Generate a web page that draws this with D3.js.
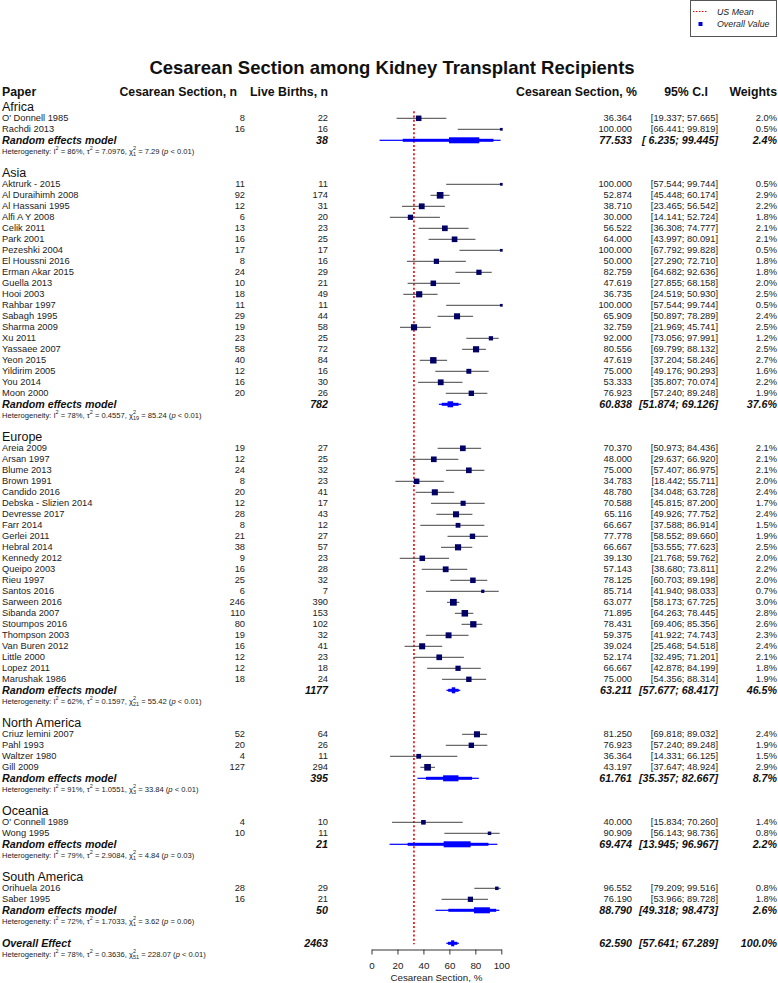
<!DOCTYPE html>
<html><head><meta charset="utf-8">
<script src="https://cdn.jsdelivr.net/npm/d3@7"></script>
<style>
body{margin:0;background:#fff;}
svg{display:block;font-family:"Liberation Sans",Arial,Helvetica,sans-serif;}
text{white-space:pre;}
</style></head><body>
<svg id="chart" width="778" height="983"></svg>
<script>
// ---------------- DATA ----------------
const groups = ["Africa","Asia","Europe","North America","Oceania","South America"];
const studyGroup = [0,0,
  1,1,1,1,1,1,1,1,1,1,1,1,1,1,1,1,1,1,1,1,
  2,2,2,2,2,2,2,2,2,2,2,2,2,2,2,2,2,2,2,2,2,2,
  3,3,3,3,
  4,4,
  5,5];
const studyNames = ["O' Donnell 1985","Rachdi 2013",
  "Aktrurk - 2015","Al Duraihimh 2008","Al Hassani 1995","Alfi A Y 2008","Celik 2011","Park 2001","Pezeshki 2004","El Houssni 2016","Erman Akar 2015","Guella 2013","Hooi 2003","Rahbar 1997","Sabagh 1995","Sharma 2009","Xu 2011","Yassaee 2007","Yeon 2015","Yildirim 2005","You 2014","Moon 2000",
  "Areia 2009","Arsan 1997","Blume 2013","Brown 1991","Candido 2016","Debska - Slizien 2014","Devresse 2017","Farr 2014","Gerlei 2011","Hebral 2014","Kennedy 2012","Queipo 2003","Rieu 1997","Santos 2016","Sarween 2016","Sibanda 2007","Stoumpos 2016","Thompson 2003","Van Buren 2012","Little 2000","Lopez 2011","Marushak 1986",
  "Criuz lemini 2007","Pahl 1993","Waltzer 1980","Gill 2009",
  "O' Connell 1989","Wong 1995",
  "Orihuela 2016","Saber 1995"];
const cesareanN = [8,16,
  11,92,12,6,13,16,17,8,24,10,18,11,29,19,23,58,40,12,16,20,
  19,12,24,8,20,12,28,8,21,38,9,16,25,6,246,110,80,19,16,12,12,18,
  52,20,4,127,
  4,10,
  28,16];
const liveBirths = [22,16,
  11,174,31,20,23,25,17,16,29,21,49,11,44,58,25,72,84,16,30,26,
  27,25,32,23,41,17,43,12,27,57,23,28,32,7,390,153,102,32,41,23,18,24,
  64,26,11,294,
  10,11,
  29,21];
const pctValues = [36.364,100.000,
  100.000,52.874,38.710,30.000,56.522,64.000,100.000,50.000,82.759,47.619,36.735,100.000,65.909,32.759,92.000,80.556,47.619,75.000,53.333,76.923,
  70.370,48.000,75.000,34.783,48.780,70.588,65.116,66.667,77.778,66.667,39.130,57.143,78.125,85.714,63.077,71.895,78.431,59.375,39.024,52.174,66.667,75.000,
  81.250,76.923,36.364,43.197,
  40.000,90.909,
  96.552,76.190];
const ciLow = [19.337,66.441,
  57.544,45.448,23.465,14.141,36.308,43.997,67.792,27.290,64.682,27.855,24.519,57.544,50.897,21.969,73.056,69.799,37.204,49.176,35.807,57.240,
  50.973,29.637,57.407,18.442,34.048,45.815,49.926,37.588,58.552,53.555,21.768,38.680,60.703,41.940,58.173,64.263,69.406,41.922,25.468,32.495,42.878,54.356,
  69.818,57.240,14.331,37.647,
  15.834,56.143,
  79.209,53.966];
const ciHigh = [57.665,99.819,
  99.744,60.174,56.542,52.724,74.777,80.091,99.828,72.710,92.636,68.158,50.930,99.744,78.289,45.741,97.991,88.132,58.246,90.293,70.074,89.248,
  84.436,66.920,86.975,55.711,63.728,87.200,77.752,86.914,89.660,77.623,59.762,73.811,89.198,98.033,67.725,78.445,85.356,74.743,54.518,71.201,84.199,88.314,
  89.032,89.248,66.125,48.924,
  70.260,98.736,
  99.516,89.728];
const weights = [2.0,0.5,
  0.5,2.9,2.2,1.8,2.1,2.1,0.5,1.8,1.8,2.0,2.5,0.5,2.4,2.5,1.2,2.5,2.7,1.6,2.2,1.9,
  2.1,2.1,2.1,2.0,2.4,1.7,2.4,1.5,1.9,2.5,2.0,2.2,2.0,0.7,3.0,2.8,2.6,2.3,2.4,2.1,1.8,1.9,
  2.4,1.9,1.5,2.9,
  1.4,0.8,
  0.8,1.8];

// random effects model per group
const reTotal  = [38,782,1177,395,21,50];
const rePct    = [77.533,60.838,63.211,61.761,69.474,88.790];
const reLow    = [6.235,51.874,57.677,35.357,13.945,49.318];
const reHigh   = [99.445,69.126,68.417,82.667,96.967,98.473];
const reWeight = [2.4,37.6,46.5,8.7,2.2,2.6];
// heterogeneity per group
const hetI2  = [86,78,62,91,79,72];
const hetTau = ["7.0976","0.4557","0.1597","1.0551","2.9084","1.7033"];
const hetDf  = [1,19,21,3,1,1];
const hetQ   = ["7.29","85.24","55.42","33.84","4.84","3.62"];
const hetP   = ["< 0.01","< 0.01","< 0.01","< 0.01","= 0.03","= 0.06"];

// overall
const overallTotal = 2463;
const overallPct = 62.590, overallLow = 57.641, overallHigh = 67.289, overallWeight = 100.0;
const overallHet = {i2:78, tau:"0.3636", df:51, q:"228.07", p:"< 0.01"};

const usMean = 32.7;
const axisTicks = [0,20,40,60,80,100];

// ---------------- LAYOUT ----------------
const svg = d3.select("#chart");
const x = d3.scaleLinear().domain([0,100]).range([371.5,501.3]);
const rowH = 11;
const row0 = 107.3;           // y of first subgroup label row
const rowY = k => row0 + k*rowH;
const txt = "#222";
const f3 = d3.format(".3f");
const pad6 = v => { const s = f3(v); return s.length < 6 ? " ".repeat(6 - s.length) + s : s; };
const ciStr = (lo,hi) => "[" + pad6(lo) + "; " + pad6(hi) + "]";
const wStr = w => d3.format(".1f")(w) + "%";

const col = {name:2, cs:245, lb:328, pct:632, ci:718, w:777};

// uniform row grid: label, studies, random, heterogeneity, blank
let k = 0;
const groupY = [], studyY = new Array(studyNames.length), reY = [], hetY = [];
groups.forEach((g,gi) => {
  groupY[gi] = rowY(k); k++;
  studyNames.forEach((s,i) => { if (studyGroup[i] === gi) { studyY[i] = rowY(k); k++; } });
  reY[gi] = rowY(k); k++;
  hetY[gi] = rowY(k); k++;
  k++;
});
const overallY = rowY(k);
const overallHetY = rowY(k+1);
const axisY = 949.5;
const headerY = 92;
const titleY = 67;

// ---------------- LEGEND ----------------
const lg = svg.append("g");
lg.append("rect").attr("x",690.5).attr("y",0.5).attr("width",86).attr("height",36)
  .attr("fill","#fff").attr("stroke","#555").attr("stroke-width",1);
lg.append("line").attr("x1",693).attr("x2",707).attr("y1",11.5).attr("y2",11.5)
  .attr("stroke","#e00").attr("stroke-width",1).attr("stroke-dasharray","1.5,1.5");
lg.append("text").attr("x",717).attr("y",11.5).attr("dominant-baseline","central")
  .attr("font-size",8.8).attr("font-style","italic").attr("fill",txt).text("US Mean");
lg.append("rect").attr("x",698.5).attr("y",22).attr("width",4).attr("height",4).attr("fill","#0000cc");
lg.append("text").attr("x",717).attr("y",24).attr("dominant-baseline","central")
  .attr("font-size",8.8).attr("font-style","italic").attr("fill",txt).text("Overall Value");

// ---------------- TITLE ----------------
svg.append("text").attr("x",392).attr("y",titleY).attr("text-anchor","middle").attr("dominant-baseline","central")
  .attr("font-size",18.5).attr("font-weight","bold").attr("fill","#111")
  .text("Cesarean Section among Kidney Transplant Recipients");

// ---------------- COLUMN HEADERS ----------------
const hdr = [
  {t:"Paper", x:2, a:"start"},
  {t:"Cesarean Section, n", x:237, a:"end"},
  {t:"Live Births, n", x:328, a:"end"},
  {t:"Cesarean Section, %", x:637, a:"end"},
  {t:"95% C.I", x:686, a:"middle"},
  {t:"Weights", x:777, a:"end"}
];
svg.append("g").selectAll("text").data(hdr).join("text")
  .attr("x",d=>d.x).attr("y",headerY).attr("text-anchor",d=>d.a).attr("dominant-baseline","central")
  .attr("font-size",12.3).attr("font-weight","bold").attr("fill","#111").text(d=>d.t);

// ---------------- US MEAN LINE ----------------
svg.append("line").attr("x1",x(usMean)).attr("x2",x(usMean)).attr("y1",row0+4).attr("y2",overallY+1)
  .attr("stroke","#e00").attr("stroke-width",1.6).attr("stroke-dasharray","2,2.2");

// ---------------- GROUP LABELS ----------------
svg.append("g").selectAll("text").data(groups).join("text")
  .attr("x",2).attr("y",(d,i)=>groupY[i]).attr("dominant-baseline","central")
  .attr("font-size",12.5).attr("fill","#111").text(d=>d);

// ---------------- STUDIES ----------------
const idx = d3.range(studyNames.length);
const sg = svg.append("g").attr("font-size",9.3).attr("fill",txt);
const addCol = (vals, xx, anchor) => sg.append("g").selectAll("text").data(idx).join("text")
  .attr("x",xx).attr("y",i=>studyY[i]).attr("text-anchor",anchor).attr("dominant-baseline","central").text(i=>vals(i));
addCol(i=>studyNames[i], col.name, "start");
addCol(i=>cesareanN[i], col.cs, "end");
addCol(i=>liveBirths[i], col.lb, "end");
addCol(i=>f3(pctValues[i]), col.pct, "end");
addCol(i=>ciStr(ciLow[i],ciHigh[i]), col.ci, "end");
addCol(i=>wStr(weights[i]), col.w, "end");

// CI lines & squares
const plot = svg.append("g");
plot.selectAll("line.ci").data(idx).join("line").attr("class","ci")
  .attr("x1",i=>x(ciLow[i])).attr("x2",i=>x(ciHigh[i]))
  .attr("y1",i=>studyY[i]).attr("y2",i=>studyY[i])
  .attr("stroke","#444").attr("stroke-width",1);
const sq = i => 3.9*Math.sqrt(weights[i]);
plot.selectAll("rect.sq").data(idx).join("rect").attr("class","sq")
  .attr("x",i=>x(pctValues[i])-sq(i)/2).attr("y",i=>studyY[i]-sq(i)/2)
  .attr("width",sq).attr("height",sq).attr("fill","#000066");

// ---------------- DIAMONDS (stepped, as rendered in the reference) ----------------
const blue = "#0000ff";
function drawDiamond(g, lo, c, hi, yy) {
  const seg = (f, h) => {
    const a = x(lo + f*(c-lo)), b = x(hi - f*(hi-c));
    g.append("rect").attr("x",a).attr("width",Math.max(0,b-a)).attr("y",yy-h/2).attr("height",h).attr("fill",blue);
  };
  seg(0, 1.2);
  seg(0.25, 3);
  seg(0.75, 6);
}
const gi = d3.range(groups.length);
gi.forEach(i => drawDiamond(plot, reLow[i], rePct[i], reHigh[i], reY[i]));

const rg = svg.append("g").attr("font-size",10.7).attr("font-weight","bold").attr("font-style","italic").attr("fill","#111");
const addRe = (vals, xx, anchor) => rg.append("g").selectAll("text").data(gi).join("text")
  .attr("x",xx).attr("y",i=>reY[i]).attr("text-anchor",anchor).attr("dominant-baseline","central").text(i=>vals(i));
addRe(()=> "Random effects model", col.name, "start");
addRe(i=>reTotal[i], col.lb, "end");
addRe(i=>f3(rePct[i]), col.pct, "end");
addRe(i=>ciStr(reLow[i],reHigh[i]), col.ci, "end");
addRe(i=>wStr(reWeight[i]), col.w, "end");

// heterogeneity text
function hetText(sel, h) {
  sel.append("tspan").text("Heterogeneity: I");
  sel.append("tspan").attr("dy",-3).attr("font-size",5.5).text("2");
  sel.append("tspan").attr("dy",3).text(` = ${h.i2}%, \u03c4`);
  sel.append("tspan").attr("dy",-3).attr("font-size",5.5).text("2");
  sel.append("tspan").attr("dy",3).text(` = ${h.tau}, \u03c7`);
  sel.append("tspan").attr("dy",-3).attr("font-size",5.5).text("2");
  sel.append("tspan").attr("dy",5.5).attr("dx",-3).attr("font-size",5.5).text(String(h.df));
  sel.append("tspan").attr("dy",-2.5).text(` = ${h.q} (`);
  sel.append("tspan").attr("font-style","italic").text("p");
  sel.append("tspan").text(` ${h.p})`);
}
gi.forEach(i => {
  const t = svg.append("text").attr("x",2).attr("y",hetY[i]).attr("dominant-baseline","central")
    .attr("font-size",7.6).attr("fill",txt);
  hetText(t, {i2:hetI2[i], tau:hetTau[i], df:hetDf[i], q:hetQ[i], p:hetP[i]});
});

// ---------------- OVERALL ----------------
drawDiamond(plot, overallLow, overallPct, overallHigh, overallY);
const og = svg.append("g").attr("font-size",10.7).attr("font-weight","bold").attr("font-style","italic").attr("fill","#111");
[["Overall Effect",col.name,"start"],[overallTotal,col.lb,"end"],[f3(overallPct),col.pct,"end"],
 [ciStr(overallLow,overallHigh),col.ci,"end"],[wStr(overallWeight),col.w,"end"]].forEach(d=>{
  og.append("text").attr("x",d[1]).attr("y",overallY).attr("text-anchor",d[2]).attr("dominant-baseline","central").text(d[0]);
});
const ot = svg.append("text").attr("x",2).attr("y",overallHetY).attr("dominant-baseline","central")
  .attr("font-size",7.6).attr("fill",txt);
hetText(ot, overallHet);

// ---------------- AXIS ----------------
const ax = svg.append("g").attr("transform",`translate(0,${axisY})`)
  .call(d3.axisBottom(x).tickValues(axisTicks).tickSize(5).tickSizeOuter(0).tickPadding(7.5));
ax.attr("font-family",null);
ax.select(".domain").attr("stroke","#333");
ax.selectAll(".tick line").attr("stroke","#333");
ax.selectAll(".tick text").attr("font-size",9.8).attr("fill",txt);
svg.append("text").attr("x",x(50)).attr("y",977.3).attr("text-anchor","middle").attr("dominant-baseline","central")
  .attr("font-size",9.8).attr("fill",txt).text("Cesarean Section, %");
</script>
</body></html>
